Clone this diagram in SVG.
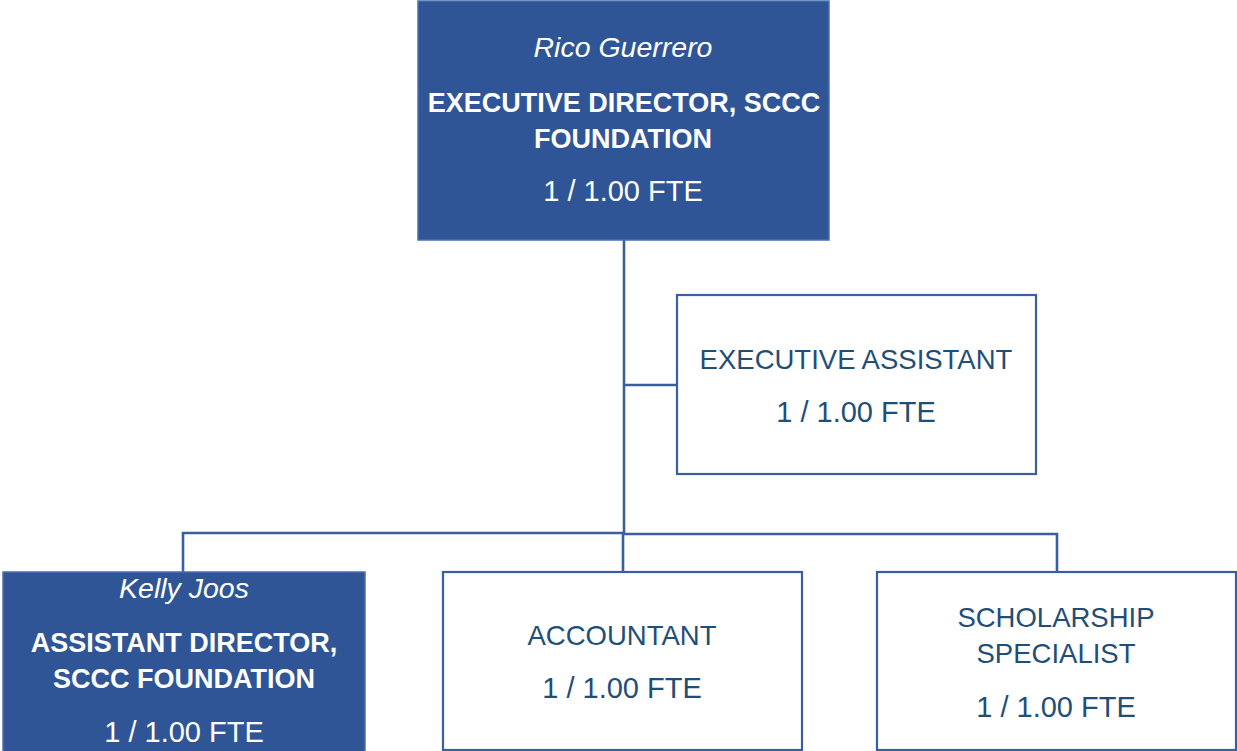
<svg xmlns="http://www.w3.org/2000/svg" width="1237" height="751" viewBox="0 0 1237 751">
<style>
.filled{fill:#2F5597;stroke:#4A6FAF;stroke-width:1.5}
.open{fill:#FFFFFF;stroke:#3A5FA0;stroke-width:2.2}
.conn{stroke:#3A5FA0;stroke-width:2.6;fill:none}
text{font-family:"Liberation Sans",Arial,sans-serif;text-anchor:middle}
.w{fill:#FFFFFF}
.d{fill:#1F4E79}
.it{font-style:italic;font-size:28.5px}
.b{font-weight:bold;font-size:27px}
.r{font-size:27.5px}
.f{font-size:29px}
</style>
<rect width="1237" height="751" fill="#FFFFFF"/>
<g id="connectors">
<line class="conn" x1="624" y1="240" x2="624" y2="534"/>
<line class="conn" x1="624" y1="385" x2="677" y2="385"/>
<polyline class="conn" points="183,572 183,533 624,533"/>
<polyline class="conn" points="624,534 1057,534 1057,572"/>
<line class="conn" x1="623" y1="533" x2="623" y2="572"/>
</g>
<g id="executive-director">
<rect class="filled" x="418" y="1" width="411" height="239"/>
<text class="w it" x="623" y="57">Rico Guerrero</text>
<text class="w b" x="624" y="112">EXECUTIVE DIRECTOR, SCCC</text>
<text class="w b" x="623" y="148">FOUNDATION</text>
<text class="w f" x="623" y="201">1 / 1.00 FTE</text>
</g>
<g id="executive-assistant">
<rect class="open" x="677" y="295" width="359" height="179"/>
<text class="d r" x="856" y="369">EXECUTIVE ASSISTANT</text>
<text class="d f" x="856" y="422">1 / 1.00 FTE</text>
</g>
<g id="assistant-director">
<rect class="filled" x="3" y="572" width="362" height="182"/>
<text class="w it" x="184" y="598">Kelly Joos</text>
<text class="w b" x="184" y="652">ASSISTANT DIRECTOR,</text>
<text class="w b" x="184" y="688">SCCC FOUNDATION</text>
<text class="w f" x="184" y="742">1 / 1.00 FTE</text>
</g>
<g id="accountant">
<rect class="open" x="443" y="572" width="359" height="178"/>
<text class="d r" x="622" y="645">ACCOUNTANT</text>
<text class="d f" x="622" y="698">1 / 1.00 FTE</text>
</g>
<g id="scholarship-specialist">
<rect class="open" x="877" y="572" width="359" height="178"/>
<text class="d r" x="1056" y="627">SCHOLARSHIP</text>
<text class="d r" x="1056" y="663">SPECIALIST</text>
<text class="d f" x="1056" y="717">1 / 1.00 FTE</text>
</g>
</svg>
